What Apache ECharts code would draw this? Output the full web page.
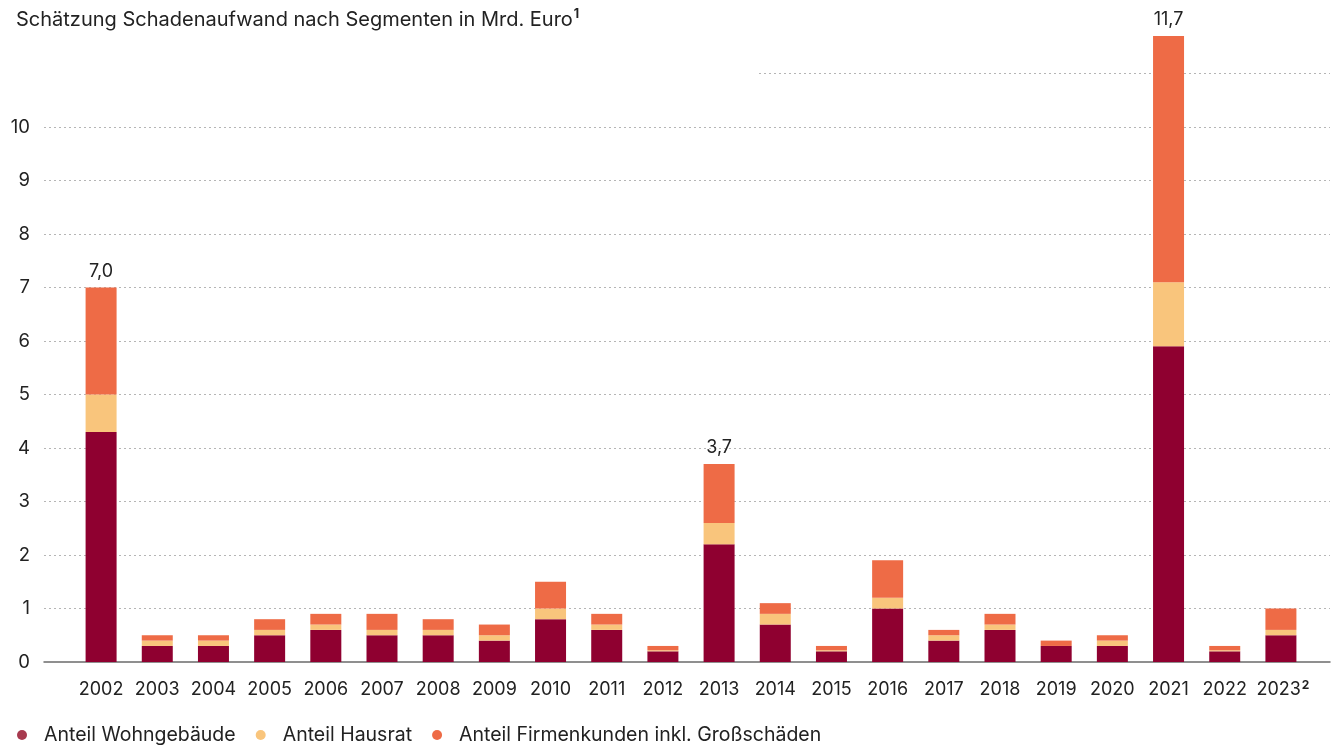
<!DOCTYPE html>
<html>
<head>
<meta charset="utf-8">
<script src="https://cdn.jsdelivr.net/npm/echarts@6/dist/echarts.min.js"></script>
<style>
html,body{margin:0;padding:0;background:#fff;}
#chart{width:1341px;height:745px;}
</style>
</head>
<body>
<div id="chart"></div>
<script>
const years = ['2002','2003','2004','2005','2006','2007','2008','2009','2010','2011','2012','2013','2014','2015','2016','2017','2018','2019','2020','2021','2022','2023'];
const wohngebaeude = [4.3,0.3,0.3,0.5,0.6,0.5,0.5,0.4,0.8,0.6,0.2,2.2,0.7,0.2,1.0,0.4,0.6,0.3,0.3,5.9,0.2,0.5];
const hausrat      = [0.7,0.1,0.1,0.1,0.1,0.1,0.1,0.1,0.2,0.1,0.02,0.4,0.2,0.02,0.2,0.1,0.1,0.0,0.1,1.2,0.02,0.1];
const firmenkunden = [2.0,0.1,0.1,0.2,0.2,0.3,0.2,0.2,0.5,0.2,0.08,1.1,0.2,0.08,0.7,0.1,0.2,0.1,0.1,4.6,0.08,0.4];
const totalLabels  = {'2002':'7,0','2013':'3,7','2021':'11,7'};
const seriesNames = ['Anteil Wohngebäude','Anteil Hausrat','Anteil Firmenkunden inkl. Großschäden'];
const titleText = 'Schätzung Schadenaufwand nach Segmenten in Mrd. Euro';
const yTicks = [0,1,2,3,4,5,6,7,8,9,10];

const FONT = 'Inter, "Noto Sans", sans-serif';
const TXT = '#222';
const colors = ['#8f0030','#f9c57c','#ee6b46'];

const chart = echarts.init(document.getElementById('chart'), null, {renderer:'canvas'});

const gridTop = 20, gridBottom = 83;

const option = {
  animation: false,
  backgroundColor: '#fff',
  textStyle: {fontFamily: FONT},
  title: {
    left: 11, top: 3,
    text: '{a|' + titleText + '}{b|1}',
    textStyle: {
      fontWeight: 'normal',
      rich: {
        a: {fontFamily: FONT, fontSize: 20, fontWeight: 'normal', color: TXT, lineHeight: 24},
        b: {fontFamily: FONT, fontSize: 12.5, fontWeight: 'bold', color: TXT, verticalAlign: 'top', lineHeight: 24, padding:[0,0,8,1]}
      }
    }
  },
  legend: {
    left: 12, top: 720,
    icon: 'circle', itemWidth: 10, itemHeight: 10, itemGap: 20,
    textStyle: {fontFamily: FONT, fontSize: 19.5, color: TXT, padding:[0,0,0,12]},
    data: [
      {name: seriesNames[0], itemStyle: {color: '#a73a4f'}},
      {name: seriesNames[1]},
      {name: seriesNames[2]}
    ]
  },
  graphic: [{
    type: 'rect', z: 1,
    shape: {x: 40, y: 69, width: 717, height: 9},
    style: {fill: '#fff'}
  }],
  grid: [
    {left: 44, right: 11, top: gridTop, bottom: gridBottom},
    {left: 73, right: 32, top: gridTop, bottom: gridBottom}
  ],
  xAxis: [
    {gridIndex: 0, type: 'value', min: 0, max: 1, show: true,
     axisLine: {show: true, onZero: false, lineStyle: {color: '#6b6b6b', width: 1.5}},
     axisTick: {show: false}, axisLabel: {show: false}, splitLine: {show: false}},
    {gridIndex: 1, type: 'category', data: years,
     axisLine: {show: false}, axisTick: {show: false},
     axisLabel: {
       interval: 0, hideOverlap: false,
       margin: 17, fontFamily: FONT, fontSize: 18, color: TXT,
       formatter: function (v, i) { return i === years.length - 1 ? '{p|}{y|' + v + '}{s|2}' : '{y|' + v + '}'; },
       rich: {
         y: {fontFamily: FONT, fontSize: 18, color: TXT, lineHeight: 22},
         p: {width: 4, lineHeight: 22},
         s: {fontFamily: FONT, fontSize: 12, fontWeight: 'bold', color: TXT, verticalAlign: 'top', lineHeight: 22, padding:[0,0,8,1]}
       }
     }}
  ],
  yAxis: [
    {gridIndex: 0, type: 'value', min: 0, max: 12, interval: 1,
     axisLine: {show: false}, axisTick: {show: false},
     axisLabel: {
       margin: 14, fontFamily: FONT, fontSize: 18.5, color: TXT, padding: [0,0,10,0],
       formatter: function (v) { return yTicks.indexOf(v) >= 0 ? String(v) : ''; }
     },
     splitLine: {show: true, showMinLine: false, showMaxLine: false, lineStyle: {color: '#b5b5b5', type: [2,3], width: 1}}},
    {gridIndex: 1, type: 'value', min: 0, max: 12, interval: 1, show: false, splitLine: {show: false}}
  ],
  series: [
    {name: seriesNames[0], type: 'bar', stack: 'total', xAxisIndex: 1, yAxisIndex: 1,
     barWidth: 31, itemStyle: {color: colors[0]}, data: wohngebaeude},
    {name: seriesNames[1], type: 'bar', stack: 'total', xAxisIndex: 1, yAxisIndex: 1,
     barWidth: 31, itemStyle: {color: colors[1]}, data: hausrat},
    {name: seriesNames[2], type: 'bar', stack: 'total', xAxisIndex: 1, yAxisIndex: 1,
     barWidth: 31, itemStyle: {color: colors[2]}, data: firmenkunden,
     label: {
       show: true, position: 'top', distance: 7,
       fontFamily: FONT, fontSize: 18, color: TXT,
       formatter: function (p) { return totalLabels[p.name] || ''; }
     }}
  ]
};
chart.setOption(option);
</script>
</body>
</html>
